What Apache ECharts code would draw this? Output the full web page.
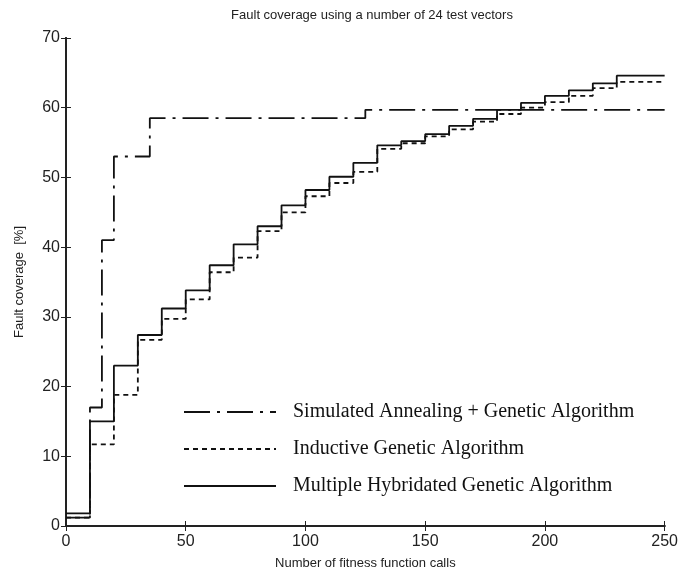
<!DOCTYPE html>
<html>
<head>
<meta charset="utf-8">
<script src="https://cdn.jsdelivr.net/npm/echarts@6/dist/echarts.min.js"></script>
<style>
  html, body { margin: 0; padding: 0; background: #fff; }
  #main { width: 681px; height: 575px; }
</style>
</head>
<body>
<div id="main"></div>
<script>
// fitness calls where the step plots change level
const callsX = [0, 10, 20, 30, 40, 50, 60, 70, 80, 90, 100, 110, 120, 130, 140, 150, 160, 170, 180, 190, 200, 210, 220, 230, 240, 250];
// Multiple Hybridated Genetic Algorithm (solid)
const mhga = [1.8, 15, 23, 27.4, 31.2, 33.8, 37.4, 40.4, 43, 46, 48.2, 50.1, 52.1, 54.6, 55.2, 56.2, 57.4, 58.4, 59.7, 60.7, 61.7, 62.5, 63.5, 64.6, 64.6, 64.6];
// Inductive Genetic Algorithm (dashed)
const iga = [1.2, 11.7, 18.8, 26.7, 29.7, 32.5, 36.4, 38.5, 42.3, 45, 47.3, 49.2, 50.8, 54.1, 54.9, 55.9, 56.9, 58.0, 59.1, 60.0, 60.8, 61.7, 62.8, 63.7, 63.7, 63.7];
// Simulated Annealing + Genetic Algorithm (dash-dot)
const saX = [0, 10, 15, 20, 35, 125, 250];
const sa = [1.2, 17, 41, 53, 58.5, 59.7, 59.7];

const seriesNames = [
  "Simulated Annealing + Genetic Algorithm",
  "Inductive Genetic Algorithm",
  "Multiple Hybridated Genetic Algorithm"
];

const pairs = (xs, ys) => xs.map((x, i) => [x, ys[i]]);

const myChart = echarts.init(document.getElementById("main"), null, { renderer: "canvas" });

const frameColor = "#222";
const tickFont = "'Liberation Sans Narrow', 'Liberation Sans', sans-serif";

const option = {
  backgroundColor: "#fff",
  animation: false,
  title: {
    text: "Fault coverage using a number of 24 test vectors",
    left: 367,
    top: 4,
    textAlign: "center",
    textStyle: { fontFamily: "'Liberation Sans', sans-serif", fontSize: 13, fontWeight: "normal", color: "#222" }
  },
  grid: { left: 66, right: 13, top: 38, bottom: 48 },
  legend: {
    orient: "vertical",
    left: 178,
    top: 396,
    itemWidth: 92,
    itemHeight: 14,
    itemGap: 15,
    data: seriesNames,
    itemStyle: { opacity: 0 },
    textStyle: { fontFamily: "'Liberation Serif', serif", fontSize: 20, lineHeight: 22, color: "#111", padding: [0, 0, 0, 12] }
  },
  xAxis: [
    {
      type: "value",
      min: 0, max: 250, interval: 50,
      name: "Number of fitness function calls",
      nameLocation: "middle",
      nameGap: 31,
      nameTextStyle: { fontFamily: "'Liberation Sans', sans-serif", fontSize: 13, color: "#222" },
      axisLine: { show: true, lineStyle: { color: frameColor, width: 2 } },
      axisTick: { show: true, inside: true, length: 5, lineStyle: { color: frameColor } },
      axisLabel: { fontFamily: tickFont, fontSize: 16, color: "#222", margin: 8 },
      splitLine: { show: false }
    },
    {
      type: "value",
      position: "top",
      min: 0, max: 250, interval: 50,
      axisLine: { show: true, lineStyle: { color: frameColor, width: 2 } },
      axisTick: { show: true, inside: true, length: 5, lineStyle: { color: frameColor } },
      axisLabel: { show: false },
      splitLine: { show: false }
    }
  ],
  yAxis: [
    {
      type: "value",
      min: 0, max: 70, interval: 10,
      name: "Fault coverage  [%]",
      nameLocation: "middle",
      nameGap: 40,
      nameTextStyle: { fontFamily: "'Liberation Sans', sans-serif", fontSize: 13, color: "#222" },
      axisLine: { show: true, lineStyle: { color: frameColor, width: 2 } },
      axisTick: { show: true, inside: true, length: 5, lineStyle: { color: frameColor } },
      axisLabel: { fontFamily: tickFont, fontSize: 16, color: "#222", margin: 6 },
      splitLine: { show: false }
    },
    {
      type: "value",
      position: "right",
      min: 0, max: 70, interval: 10,
      axisLine: { show: true, lineStyle: { color: frameColor, width: 2 } },
      axisTick: { show: true, inside: true, length: 5, lineStyle: { color: frameColor } },
      axisLabel: { show: false },
      splitLine: { show: false }
    }
  ],
  series: [
    {
      name: seriesNames[0],
      type: "line",
      step: "end",
      symbol: "none",
      data: pairs(saX, sa),
      lineStyle: { color: "#111", width: 1.8, type: [26, 7, 3, 7] },
      itemStyle: { color: "#111" }
    },
    {
      name: seriesNames[1],
      type: "line",
      step: "end",
      symbol: "none",
      data: pairs(callsX, iga),
      lineStyle: { color: "#111", width: 1.8, type: [5, 4] },
      itemStyle: { color: "#111" }
    },
    {
      name: seriesNames[2],
      type: "line",
      step: "end",
      symbol: "none",
      data: pairs(callsX, mhga),
      lineStyle: { color: "#111", width: 1.8, type: "solid" },
      itemStyle: { color: "#111" }
    }
  ]
};

option && myChart.setOption(option);
</script>
</body>
</html>
